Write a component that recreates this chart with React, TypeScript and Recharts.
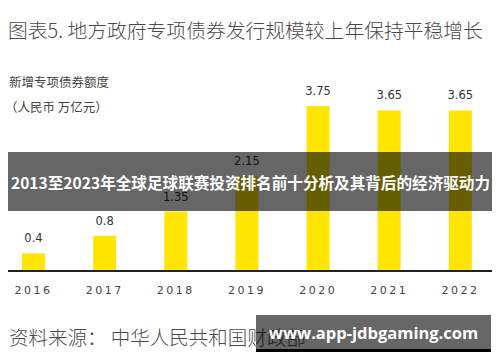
import { BarChart, Bar, XAxis, YAxis, LabelList } from 'recharts';

const years = ['2016', '2017', '2018', '2019', '2020', '2021', '2022'];
const quota = [0.4, 0.8, 1.35, 2.15, 3.75, 3.65, 3.65];
const yTicks = [0, 1, 2, 3, 4];

const data = years.map((y, i) => ({ year: y, value: quota[i] }));

const cjk = '"Noto Sans CJK SC", "Noto Sans", sans-serif';

export default function App() {
  return (
    <div style={{ position: 'relative', width: 500, height: 362, margin: -8, background: '#fff', overflow: 'hidden', fontFamily: cjk }}>
      <div style={{ position: 'absolute', left: 8, top: 15, fontSize: 19.8, color: '#4a4a4a', whiteSpace: 'nowrap', fontWeight: 300 }}>
        图表5. 地方政府专项债券发行规模较上年保持平稳增长
      </div>
      <div style={{ position: 'absolute', left: 9, top: 72, fontSize: 12.5, color: '#444', whiteSpace: 'nowrap' }}>
        新增专项债券额度
      </div>
      <div style={{ position: 'absolute', left: 5, top: 97, fontSize: 12.5, color: '#444', whiteSpace: 'nowrap' }}>
        （人民币 万亿元）
      </div>

      <div style={{ position: 'absolute', left: -2, top: 0 }}>
        <BarChart width={498} height={310} data={data} margin={{ top: 95, left: 0, right: 0, bottom: 0 }} barCategoryGap={0}>
          <XAxis
            dataKey="year"
            height={39}
            axisLine={{ stroke: '#222', strokeWidth: 2 }}
            tickLine={false}
            tickMargin={9}
            tick={{ fontSize: 11, fill: '#444', letterSpacing: 2.5, fontFamily: '"DejaVu Sans", sans-serif' }}
            interval={0}
          />
          <YAxis hide domain={[0, 4]} ticks={yTicks} />
          <Bar dataKey="value" fill="#ffe500" barSize={23} isAnimationActive={false}>
            <LabelList dataKey="value" position="top" offset={11} style={{ fontSize: 11.5, fill: '#333', fontFamily: '"DejaVu Sans", sans-serif' }} />
          </Bar>
        </BarChart>
      </div>

      <div style={{ position: 'absolute', left: 9, top: 322, fontSize: 19.5, color: '#4a4a4a', whiteSpace: 'nowrap', fontWeight: 300 }}>
        资料来源： 中华人民共和国财政部
      </div>

      <div style={{ position: 'absolute', left: 3, top: 152, width: 495, height: 59, background: 'rgba(0,0,0,0.6)', color: '#fff', fontWeight: 700, fontSize: 15.6, display: 'flex', alignItems: 'center', justifyContent: 'center', whiteSpace: 'nowrap', overflow: 'hidden' }}>
        2013至2023年全球足球联赛投资排名前十分析及其背后的经济驱动力
      </div>

      <div style={{ position: 'absolute', left: 256, top: 315, width: 235, height: 34, background: 'rgba(0,0,0,0.6)', borderBottom: '3px solid #000', color: '#fff', fontWeight: 700, fontSize: 16.5, display: 'flex', alignItems: 'center', justifyContent: 'center', whiteSpace: 'nowrap', fontFamily: '"Open Sans", "Noto Sans", sans-serif' }}>
        www.app-jdbgaming.com
      </div>
    </div>
  );
}
